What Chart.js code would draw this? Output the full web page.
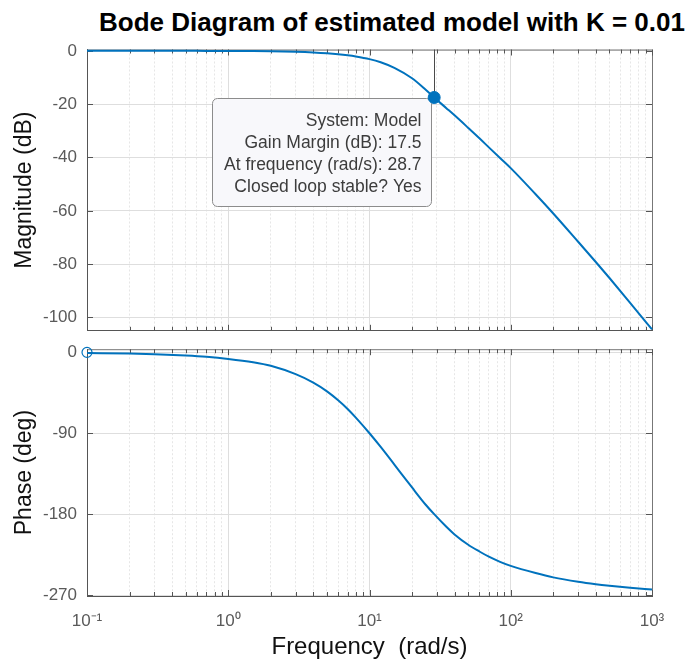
<!DOCTYPE html>
<html>
<head>
<meta charset="utf-8">
<script src="https://cdn.jsdelivr.net/npm/chart.js@4.4.1/dist/chart.umd.min.js"></script>
<style>
  html, body { margin: 0; padding: 0; background: #fff; overflow: hidden; }
  #wrap { position: relative; width: 690px; height: 663px; overflow: hidden; }
  #title { position: absolute; top: 6px; left: 0; width: 784px; text-align: center;
           font: bold 26px "Liberation Sans", Arial, sans-serif; color: #000; white-space: nowrap; line-height: 32px; }
  canvas { position: absolute; left: 0; }
</style>
</head>
<body>
<div id="wrap">
  <div id="title">Bode Diagram of estimated model with K = 0.01</div>
  <canvas id="magChart" width="690" height="351" style="top:0;width:690px;height:351px"></canvas>
  <canvas id="phaseChart" width="690" height="334" style="top:329px;width:690px;height:334px"></canvas>
</div>
<script>
// ===== Data =====
const freq  = [0.1, 0.2, 0.3, 0.5, 0.7, 1, 1.5, 2, 3, 4, 5, 6, 7, 8, 10, 12, 15, 20, 25, 28.7,
               35, 40, 50, 60, 70, 84, 100, 150, 200, 300, 400, 500, 700, 1000];
const magDb = [0, 0, 0, -0.01, -0.02, -0.03, -0.07, -0.15, -0.35, -0.6, -0.9, -1.25, -1.65, -2.1, -3.1,
               -4.3, -6.4, -10.3, -14.6, -17.5, -21.5, -24.2, -28.9, -32.8, -36.2, -40.2, -44.0,
               -53.8, -61.0, -71.6, -79.2, -85.2, -94.5, -104.5];
const phaseDeg = [-0.7, -1.4, -2.1, -3.6, -5.0, -7.3, -11, -15, -24.3, -33.7, -43.4, -53.3, -63, -72.6, -90,
                  -105.2, -124.8, -150.3, -169.5, -180, -194, -202.5, -214, -221.5, -227.3, -233, -237.5,
                  -245.5, -250.3, -255.2, -257.9, -259.6, -261.8, -263.8];

const xTickLabels = ["10\u207B\u00B9", "10\u2070", "10\u00B9", "10\u00B2", "10\u00B3"];
const magTicks = [0, -20, -40, -60, -80, -100];
const phaseTicks = [0, -90, -180, -270];

// gain margin marker + datatip
const gmFreq = 28.7;
const gmDb = -17.5;
const tipLines = ["System: Model", "Gain Margin (dB): 17.5", "At frequency (rad/s): 28.7", "Closed loop stable? Yes"];
// phase margin marker (open circle)
const pmFreq = 0.1;
const pmDeg = 0;

// ===== helpers =====
const BLUE = "#0072BD";
const FONT = "'Liberation Sans', Arial, sans-serif";

const xTickValues = [];
for (let d = -1; d <= 2; d++) {
  for (let k = 1; k <= 9; k++) xTickValues.push(Number((k * Math.pow(10, d)).toPrecision(3)));
}
xTickValues.push(1000);

function isMajor(v) {
  const l = Math.log10(v);
  return Math.abs(l - Math.round(l)) < 1e-9;
}

function xLabel(v) {
  if (!isMajor(v)) return "";
  return xTickLabels[Math.round(Math.log10(v)) + 1];
}

function xScale(showLabels, axisHeight) {
  return {
    type: "logarithmic",
    min: 0.1,
    max: 1000,
    afterBuildTicks: (s) => { s.ticks = xTickValues.map(v => ({ value: v })); },
    afterFit: (s) => { s.height = axisHeight; },
    ticks: {
      display: showLabels,
      autoSkip: false,
      maxRotation: 0,
      padding: 15,
      color: "#5a5a5a",
      font: { family: FONT, size: 17 },
      callback: (v) => xLabel(v)
    },
    grid: {
      drawTicks: false,
      color: (c) => (c.tick && isMajor(c.tick.value)) ? "#dedede" : "#e6e6e6",
      lineWidth: 1
    },
    border: {
      display: true,
      color: "#555",
      width: 1,
      dash: (c) => (c.tick && !isMajor(c.tick.value)) ? [2, 2] : []
    },
    title: showLabels ? {
      display: true,
      text: "Frequency  (rad/s)",
      color: "#111",
      font: { family: FONT, size: 24 },
      padding: { top: 0, bottom: 1 }
    } : { display: false }
  };
}

function yScale(min, max, tickList, label) {
  return {
    type: "linear",
    min: min,
    max: max,
    afterBuildTicks: (s) => { s.ticks = tickList.map(v => ({ value: v })); },
    afterFit: (s) => { s.width = 87; },
    ticks: {
      padding: 10,
      color: "#5a5a5a",
      font: { family: FONT, size: 17 }
    },
    grid: { drawTicks: false, color: "#dedede", lineWidth: 1 },
    border: { display: true, color: "#555", width: 1 },
    title: {
      display: true,
      text: label,
      color: "#111",
      font: { family: FONT, size: 23 },
      padding: { top: 11, bottom: 0 }
    }
  };
}

// box edges + small inward ticks like the matlab axes
const frame = {
  id: "frame",
  beforeDatasetsDraw(chart) {
    const { ctx, chartArea: a, scales } = chart;
    ctx.save();
    ctx.strokeStyle = "#777";
    ctx.lineWidth = 1;
    ctx.beginPath();
    ctx.moveTo(a.left, a.top + 0.5); ctx.lineTo(a.right + 0.5, a.top + 0.5);
    ctx.lineTo(a.right + 0.5, a.bottom);
    ctx.stroke();
    ctx.strokeStyle = "#555";
    ctx.beginPath();
    scales.x.ticks.forEach(t => {
      const px = Math.round(scales.x.getPixelForValue(t.value)) + 0.5;
      const len = isMajor(t.value) ? 6 : 4;
      ctx.moveTo(px, a.bottom); ctx.lineTo(px, a.bottom - len);
      ctx.moveTo(px, a.top); ctx.lineTo(px, a.top + len);
    });
    scales.y.ticks.forEach(t => {
      const py = Math.round(scales.y.getPixelForValue(t.value)) + 0.5;
      ctx.moveTo(a.left, py); ctx.lineTo(a.left + 6, py);
      ctx.moveTo(a.right, py); ctx.lineTo(a.right - 6, py);
    });
    ctx.stroke();
    ctx.restore();
  }
};

// gain margin: vertical stem + datatip box
const datatip = {
  id: "datatip",
  beforeDatasetsDraw(chart) {
    const { ctx, chartArea: a, scales } = chart;
    const px = scales.x.getPixelForValue(gmFreq);
    const py = scales.y.getPixelForValue(gmDb);
    ctx.save();
    ctx.strokeStyle = "#4a4a4a";
    ctx.lineWidth = 1;
    ctx.beginPath();
    ctx.moveTo(Math.round(px) + 0.5, a.top);
    ctx.lineTo(Math.round(px) + 0.5, py);
    ctx.stroke();

    const w = 219, h = 108, r = 5;
    const right = Math.round(px) - 2.5, top = Math.round(py) + 1.5;
    const left = right - w, bottom = top + h;
    ctx.beginPath();
    ctx.moveTo(left + r, top);
    ctx.lineTo(right - r, top);
    ctx.arcTo(right, top, right, top + r, r);
    ctx.lineTo(right, bottom - r);
    ctx.arcTo(right, bottom, right - r, bottom, r);
    ctx.lineTo(left + r, bottom);
    ctx.arcTo(left, bottom, left, bottom - r, r);
    ctx.lineTo(left, top + r);
    ctx.arcTo(left, top, left + r, top, r);
    ctx.closePath();
    ctx.fillStyle = "#f8f8fb";
    ctx.fill();
    ctx.strokeStyle = "#8c8c8c";
    ctx.stroke();

    ctx.fillStyle = "#3c3c3c";
    ctx.font = "17.5px " + FONT;
    ctx.textAlign = "right";
    ctx.textBaseline = "middle";
    tipLines.forEach((line, i) => {
      ctx.fillText(line, right - 10, top + 22.5 + i * 22);
    });
    ctx.restore();
  }
};

const magPoints = freq.map((f, i) => ({ x: f, y: magDb[i] }));
const phasePoints = freq.map((f, i) => ({ x: f, y: phaseDeg[i] }));

new Chart(document.getElementById("magChart"), {
  type: "line",
  data: {
    datasets: [
      {
        data: magPoints,
        borderColor: BLUE,
        borderWidth: 2,
        pointRadius: 0,
        cubicInterpolationMode: "monotone",
        clip: 2
      },
      {
        type: "scatter",
        data: [{ x: gmFreq, y: gmDb }],
        pointRadius: 6,
        backgroundColor: BLUE,
        borderColor: BLUE,
        clip: false
      }
    ]
  },
  options: {
    responsive: false,
    devicePixelRatio: 1,
    animation: false,
    layout: { padding: { top: 49.5, right: 38, left: 0, bottom: 0 } },
    plugins: { legend: { display: false }, tooltip: { enabled: false } },
    scales: {
      x: xScale(false, 10),
      y: yScale(-105, 0.5, magTicks, "Magnitude (dB)")
    }
  },
  plugins: [frame, datatip]
});

new Chart(document.getElementById("phaseChart"), {
  type: "line",
  data: {
    datasets: [
      {
        data: phasePoints,
        borderColor: BLUE,
        borderWidth: 2,
        pointRadius: 0,
        cubicInterpolationMode: "monotone",
        clip: 2
      },
      {
        type: "scatter",
        data: [{ x: pmFreq, y: pmDeg }],
        pointRadius: 5,
        backgroundColor: "rgba(255,255,255,0)",
        borderColor: BLUE,
        borderWidth: 1.2,
        clip: false
      }
    ]
  },
  options: {
    responsive: false,
    devicePixelRatio: 1,
    animation: false,
    layout: { padding: { top: 7.5, right: 38, left: 0, bottom: 0 } },
    plugins: { legend: { display: false }, tooltip: { enabled: false } },
    scales: {
      x: xScale(true, 67),
      y: yScale(-271, 3.5, phaseTicks, "Phase (deg)")
    }
  },
  plugins: [frame]
});
</script>
</body>
</html>
